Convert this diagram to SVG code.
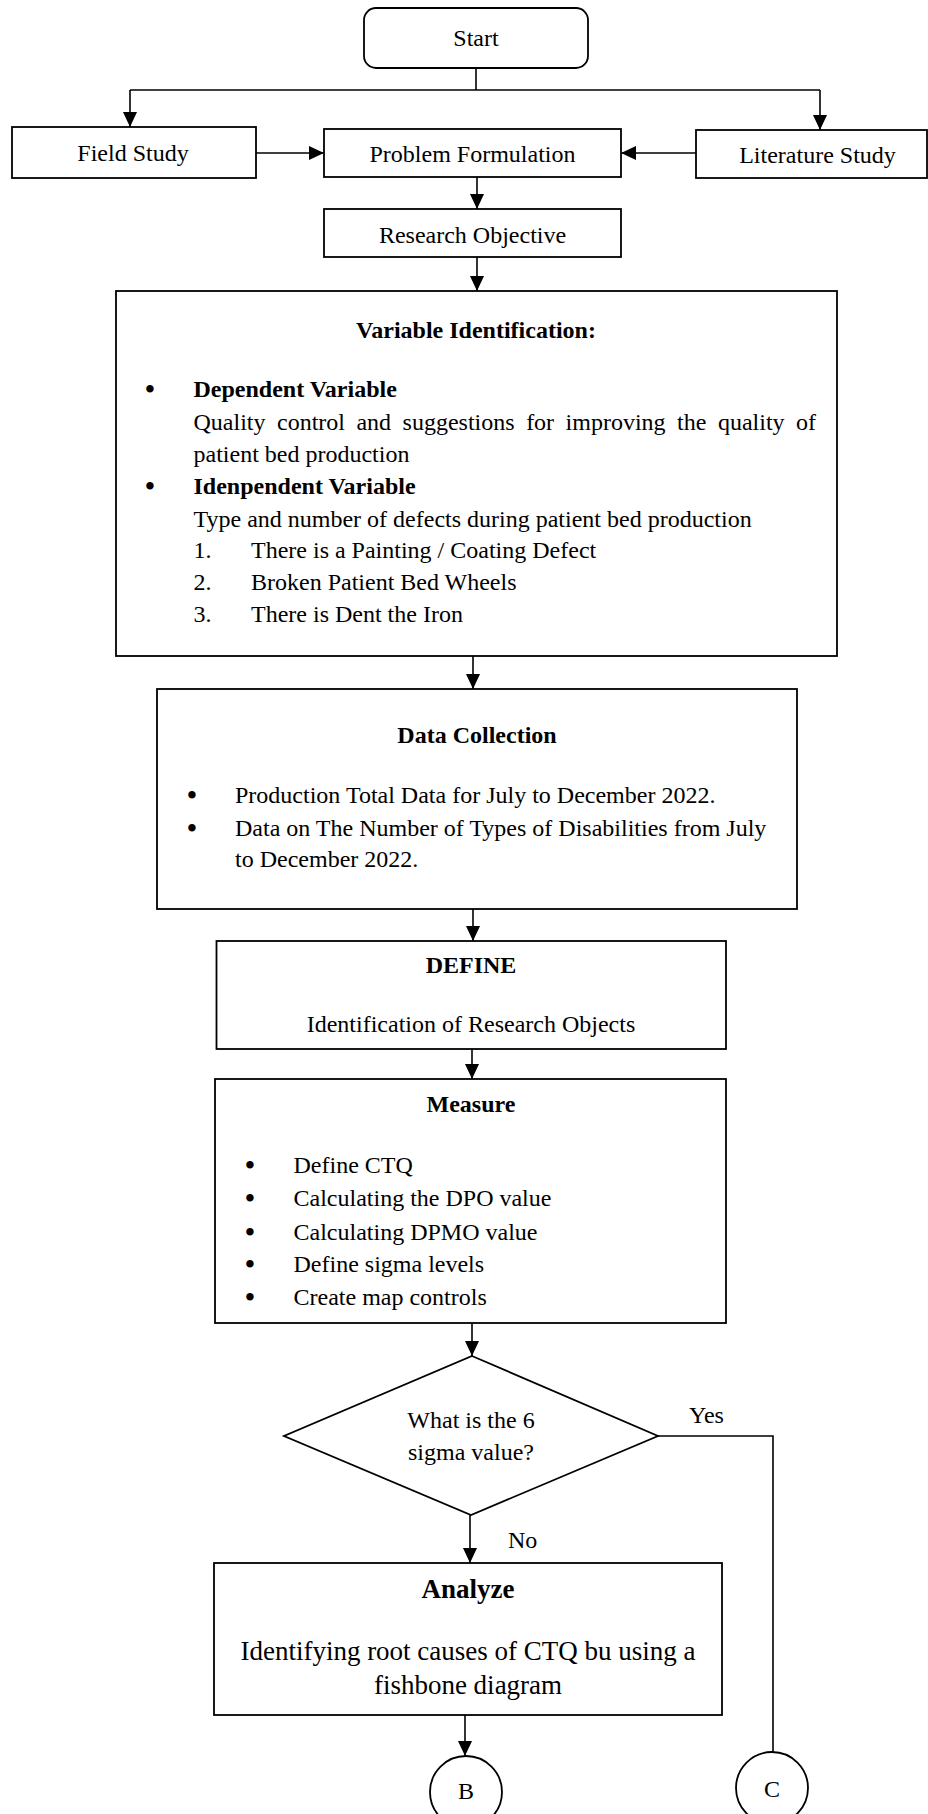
<svg xmlns="http://www.w3.org/2000/svg" width="928" height="1814" viewBox="0 0 928 1814">
<style>
.box{fill:#fff;stroke:#000;stroke-width:1.8}
.ln{fill:none;stroke:#000;stroke-width:1.6}
text{font-family:"Liberation Serif","Times New Roman",serif;font-size:24px;fill:#000}
.c{text-anchor:middle}
.b{font-weight:bold}
.big{font-size:27px}
.bul{font-size:31px;text-anchor:middle}
</style>
<defs>
<marker id="ah" markerUnits="userSpaceOnUse" viewBox="0 0 15 14" refX="15" refY="7" markerWidth="15" markerHeight="14" orient="auto">
<path d="M0,0 L15,7 L0,14 z" fill="#000"/>
</marker>
</defs>
<rect width="928" height="1814" fill="#fff"/>
<g id="connectors">
<path class="ln" d="M476,68 V90"/>
<path class="ln" d="M130,90 H820"/>
<path class="ln" d="M130,90 V127" marker-end="url(#ah)"/>
<path class="ln" d="M820,90 V130" marker-end="url(#ah)"/>
<path class="ln" d="M256,153 H324" marker-end="url(#ah)"/>
<path class="ln" d="M696,153 H621" marker-end="url(#ah)"/>
<path class="ln" d="M477,177 V209" marker-end="url(#ah)"/>
<path class="ln" d="M477,257 V291" marker-end="url(#ah)"/>
<path class="ln" d="M473,656 V689" marker-end="url(#ah)"/>
<path class="ln" d="M473,909 V941" marker-end="url(#ah)"/>
<path class="ln" d="M472,1049 V1079" marker-end="url(#ah)"/>
<path class="ln" d="M472,1323 V1356" marker-end="url(#ah)"/>
<path class="ln" d="M470,1515 V1563" marker-end="url(#ah)"/>
<path class="ln" d="M465,1715 V1756" marker-end="url(#ah)"/>
<path class="ln" d="M658,1436 H773 V1752"/>
<text x="689" y="1423">Yes</text>
<text x="508" y="1548">No</text>
</g>
<g id="start">
<rect class="box" x="364" y="8" width="224" height="60" rx="12"/>
<text class="c" x="476" y="46">Start</text>
</g>
<g id="field">
<rect class="box" x="12" y="127" width="244" height="51"/>
<text class="c" x="133" y="161">Field Study</text>
</g>
<g id="problem">
<rect class="box" x="324" y="129" width="297" height="48"/>
<text class="c" x="472.5" y="162">Problem Formulation</text>
</g>
<g id="literature">
<rect class="box" x="696" y="130" width="231" height="48"/>
<text class="c" x="817.5" y="163">Literature Study</text>
</g>
<g id="objective">
<rect class="box" x="324" y="209" width="297" height="48"/>
<text class="c" x="472.5" y="243">Research Objective</text>
</g>
<g id="variable">
<rect class="box" x="116" y="291" width="721" height="365"/>
<text class="c b" x="476" y="338">Variable Identification:</text>
<text class="bul" x="150" y="400">•</text>
<text class="b" x="193.5" y="397">Dependent Variable</text>
<text x="193.5" y="430" word-spacing="5.5">Quality control and suggestions for improving the quality of</text>
<text x="193.5" y="462">patient bed production</text>
<text class="bul" x="150" y="497">•</text>
<text class="b" x="193.5" y="494">Idenpendent Variable</text>
<text x="193.5" y="527">Type and number of defects during patient bed production</text>
<text x="193.5" y="558">1.</text>
<text x="251" y="558">There is a Painting / Coating Defect</text>
<text x="193.5" y="590">2.</text>
<text x="251" y="590">Broken Patient Bed Wheels</text>
<text x="193.5" y="622">3.</text>
<text x="251" y="622">There is Dent the Iron</text>
</g>
<g id="data">
<rect class="box" x="157" y="689" width="640" height="220"/>
<text class="c b" x="477" y="743">Data Collection</text>
<text class="bul" x="192" y="806">•</text>
<text x="235" y="803">Production Total Data for July to December 2022.</text>
<text class="bul" x="192" y="839">•</text>
<text x="235" y="836">Data on The Number of Types of Disabilities from July</text>
<text x="235" y="867">to December 2022.</text>
</g>
<g id="define">
<rect class="box" x="216.5" y="941" width="509.5" height="108"/>
<text class="c b" x="471" y="973">DEFINE</text>
<text class="c" x="471" y="1032">Identification of Research Objects</text>
</g>
<g id="measure">
<rect class="box" x="215" y="1079" width="511" height="244"/>
<text class="c b" x="471" y="1112">Measure</text>
<text class="bul" x="250" y="1176">•</text>
<text x="293.5" y="1173">Define CTQ</text>
<text class="bul" x="250" y="1209">•</text>
<text x="293.5" y="1206">Calculating the DPO value</text>
<text class="bul" x="250" y="1243">•</text>
<text x="293.5" y="1240">Calculating DPMO value</text>
<text class="bul" x="250" y="1275">•</text>
<text x="293.5" y="1272">Define sigma levels</text>
<text class="bul" x="250" y="1308">•</text>
<text x="293.5" y="1305">Create map controls</text>
</g>
<g id="decision">
<polygon class="box" points="472,1356 658,1436 471,1515 284,1436"/>
<text class="c" x="471" y="1428">What is the 6</text>
<text class="c" x="471" y="1460">sigma value?</text>
</g>
<g id="analyze">
<rect class="box" x="214" y="1563" width="508" height="152"/>
<text class="c b big" x="468" y="1598">Analyze</text>
<text class="c big" x="468" y="1660">Identifying root causes of CTQ bu using a</text>
<text class="c big" x="468" y="1694">fishbone diagram</text>
</g>
<g id="connB">
<circle class="box" cx="466" cy="1792" r="36"/>
<text class="c" x="466" y="1799">B</text>
</g>
<g id="connC">
<circle class="box" cx="772" cy="1788" r="36"/>
<text class="c" x="772" y="1797">C</text>
</g>
</svg>
